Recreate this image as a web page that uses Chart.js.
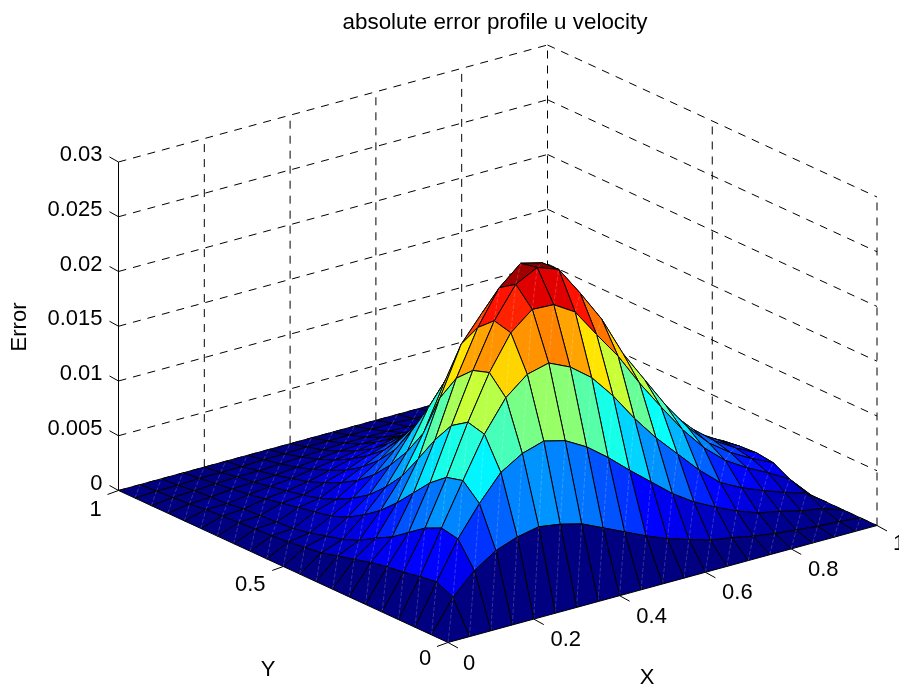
<!DOCTYPE html>
<html><head><meta charset="utf-8">
<style>html,body{margin:0;padding:0;background:#fff}canvas{display:block}</style>
<script src="https://cdn.jsdelivr.net/npm/chart.js@4"></script>
</head><body><canvas id="c" width="899" height="691"></canvas>
<script>
const titleText = "absolute error profile u velocity";
const xGrid = [0,.05,.1,.15,.2,.25,.3,.35,.4,.45,.5,.55,.6,.65,.7,.75,.8,.85,.9,.95,1];
const yGrid = xGrid.slice();
const xTicks = [0,.2,.4,.6,.8,1];
const yTicks = [0,.5,1];
const zTicks = [0,.005,.01,.015,.02,.025,.03];
const zTickLabels = ["0","0.005","0.01","0.015","0.02","0.025","0.03"];
const xTickLabels = ["0","0.2","0.4","0.6","0.8","1"];
const yTickLabels = ["0","0.5","1"];
// surface heights, one list per Y value, X from 0 to 1
const zY00=[0,0,0,0,0,0,0,0,0,0,0,0,0,0,0,0,0,0,0,0,0];
const zY05=[0,.0029,.0048,.0061,.0068,.0072,.0069,.0064,.0055,.0046,.0037,.0029,.0023,.0017,.0014,.001,.0007,.0005,.0003,.0002,0];
const zY10=[0,.0036,.0070,.0097,.012,.0132,.0138,.0133,.0122,.0107,.009,.0074,.0058,.0045,.0035,.0026,.0019,.0015,.001,.0007,0];
const zY15=[0,.0034,.0073,.0111,.0148,.0176,.0192,.0197,.0188,.0173,.0151,.0125,.0102,.0082,.0062,.0045,.0035,.0027,.002,.0014,0];
const zY20=[0,.0031,.0066,.0107,.0152,.0192,.0223,.0239,.0238,.0226,.02,.0175,.0145,.0118,.0092,.007,.0053,.0041,.0031,.002,0];
const zY25=[0,.0029,.0055,.0095,.0142,.0187,.0227,.0255,.0265,.0258,.0231,.0202,.0165,.0136,.0107,.0082,.0062,.0048,.0037,.0028,0];
const zY30=[0,.0026,.0044,.0079,.0122,.0173,.0214,.0245,.0262,.0257,.0235,.0205,.0172,.0142,.0112,.0088,.0068,.0052,.004,.003,0];
const zY35=[0,.0022,.0036,.0063,.0098,.0148,.0192,.0216,.0235,.0235,.022,.0195,.0165,.0138,.011,.0087,.0068,.0052,.004,.0029,0];
const zY40=[0,.0018,.0027,.0049,.0075,.0109,.0151,.018,.0198,.0202,.0192,.0172,.015,.0125,.0102,.0081,.0063,.0049,.0037,.0027,0];
const zY45=[0,.0014,.0021,.0038,.0058,.0085,.012,.0146,.0162,.0168,.0162,.0148,.013,.011,.009,.0072,.0056,.0043,.0032,.0022,0];
const zY50=[0,.0012,.0017,.0029,.0044,.0066,.0092,.0112,.0128,.0135,.0132,.0122,.0108,.0092,.0076,.0061,.0047,.0036,.0027,.0018,0];
const zY55=[0,.001,.0013,.0023,.0034,.005,.0068,.0086,.01,.0106,.0105,.0098,.0088,.0075,.0062,.005,.0039,.003,.0022,.0014,0];
const zY60=[0,.0009,.001,.002,.0026,.0038,.0051,.0065,.0076,.0082,.0082,.0077,.0069,.006,.005,.004,.0032,.0024,.0017,.0011,0];
const zY65=[0,.0008,.0009,.0017,.002,.0029,.0038,.0048,.0057,.0062,.0063,.006,.0054,.0047,.0039,.0032,.0025,.0019,.0013,.0008,0];
const zY70=[0,.0007,.0008,.0014,.0016,.0022,.0028,.0036,.0042,.0046,.0047,.0045,.0041,.0036,.003,.0024,.0019,.0014,.001,.0006,0];
const zY75=[0,.0006,.0007,.0011,.0013,.0016,.0021,.0026,.003,.0034,.0035,.0033,.003,.0026,.0022,.0018,.0014,.001,.0007,.0004,0];
const zY80=[0,.0005,.0005,.0008,.001,.0012,.0015,.0018,.0021,.0024,.0024,.0023,.0021,.0018,.0016,.0012,.001,.0007,.0005,.0003,0];
const zY85=[0,.0003,.0004,.0006,.0007,.0008,.001,.0012,.0014,.0015,.0016,.0015,.0014,.0012,.001,.0008,.0006,.0004,.0003,.0002,0];
const zY90=[0,.0002,.0003,.0004,.0005,.0005,.0006,.0007,.0008,.0009,.0009,.0009,.0008,.0007,.0006,.0005,.0004,.0003,.0002,.0001,0];
const zY95=[0,.0001,.0001,.0002,.0002,.0002,.0003,.0003,.0004,.0004,.0004,.0004,.0004,.0003,.0003,.0002,.0002,.0001,.0001,.0001,0];
const zY100=[0,0,0,0,0,0,0,0,0,0,0,0,0,0,0,0,0,0,0,0,0];
const zRows=[zY00,zY05,zY10,zY15,zY20,zY25,zY30,zY35,zY40,zY45,zY50,zY55,zY60,zY65,zY70,zY75,zY80,zY85,zY90,zY95,zY100];

// orthographic view of the (X,Y,Z) box onto the plane of the two chart scales
const view={ox:448,oy:642.5,xx:429,xy:-117,yx:-329.5,yy:-152,zy:-10950};
const proj=(X,Y,Z)=>({x:view.ox+view.xx*X+view.yx*Y, y:view.oy+view.xy*X+view.yy*Y+view.zy*Z});
const zMax=Math.max(...zRows.flat());
function jet(t){
  t=Math.min(63,Math.floor(t*64)+0)/63;
  const c=v=>Math.round(255*Math.max(0,Math.min(1,v)));
  return `rgb(${c(Math.min(4*t-1.5,-4*t+4.5))},${c(Math.min(4*t-.5,-4*t+3.5))},${c(Math.min(4*t+.5,-4*t+2.5))})`;
}
const ds=[];
const zOf=(i,j)=>zRows[j][i];
for(let j=0;j<yGrid.length-1;j++)for(let i=0;i<xGrid.length-1;i++){
  const V=(a,b)=>proj(xGrid[a],yGrid[b],zOf(a,b));
  // faint seam across the face, as in the reference
  ds.push({data:[V(i,j),V(i+1,j+1)],fill:false,borderColor:'rgba(255,255,255,.2)',borderWidth:1,borderDash:[4,2]});
  ds.push({data:[V(i,j),V(i+1,j),V(i+1,j+1),V(i,j+1),V(i,j)],fill:'shape',backgroundColor:jet(zOf(i,j)/zMax),borderColor:'#000',borderWidth:1,borderJoinStyle:'round'});
}
const line=(A,B,dash,color,w)=>ds.push({data:[A,B],fill:false,borderColor:color||'#000',borderWidth:w||1,borderDash:dash||[]});
const D=[8,7];
const zTop=zTicks[zTicks.length-1];
// tick marks
const off=(p,dx,dy)=>({x:p.x+dx,y:p.y+dy});
xTicks.forEach(v=>{const p=proj(v,0,0);line(p,off(p,10,5.5))});
yTicks.forEach(v=>{const p=proj(0,v,0);line(p,off(p,-11,4))});
zTicks.forEach(v=>{const p=proj(0,1,v);line(p,off(p,-9,-5))});
line(proj(0,1,0),proj(0,1,zTop));
// back-wall grid
zTicks.forEach(v=>{line(proj(0,1,v),proj(1,1,v),D);line(proj(1,1,v),proj(1,0,v),D)});
xTicks.filter(v=>v>0).forEach(v=>line(proj(v,1,0),proj(v,1,zTop),D));
yTicks.filter(v=>v<1).forEach(v=>line(proj(1,v,0),proj(1,v,zTop),D));

const textPlugin={id:'axisText',afterDraw(ch){
  const c=ch.ctx,sx=ch.scales.x,sy=ch.scales.y;
  const put=(t,p,dx,dy,al)=>{c.textAlign=al||'center';c.fillText(t,sx.getPixelForValue(p.x)+dx,sy.getPixelForValue(p.y)+dy)};
  c.save();c.fillStyle='#000';c.textBaseline='middle';c.font='22px "Liberation Sans"';
  zTicks.forEach((v,k)=>put(zTickLabels[k],proj(0,1,v),-16,-7,'right'));
  xTicks.forEach((v,k)=>put(xTickLabels[k],proj(v,0,0),v==1?22:(v==0?21:32),v==1?18:21));
  yTicks.forEach((v,k)=>put(yTickLabels[k],proj(0,v,0),v==.5?-33:-23,v==0?16:(v==1?19:18)));
  put("X",{x:647,y:678},0,0);put("Y",{x:268,y:670},0,0);
  c.translate(sx.getPixelForValue(20),sy.getPixelForValue(327));c.rotate(-Math.PI/2);c.textAlign='center';c.fillText("Error",0,0);
  c.restore();
}};
new Chart(document.getElementById('c'),{type:'scatter',data:{datasets:ds},plugins:[textPlugin],options:{
  responsive:false,animation:false,events:[],
  layout:{padding:{left:91}},
  datasets:{scatter:{showLine:true,pointRadius:0,tension:0,clip:false}},
  plugins:{legend:{display:false},tooltip:{enabled:false},
    title:{display:true,text:titleText,fullSize:false,color:'#000',font:{family:'"Liberation Sans"',size:22.4,weight:'normal',lineHeight:1.2},padding:{top:9,bottom:2.1}}},
  scales:{x:{type:'linear',display:false,min:91,max:899},y:{type:'linear',display:false,reverse:true,min:38,max:691}}
}});
</script></body></html>
